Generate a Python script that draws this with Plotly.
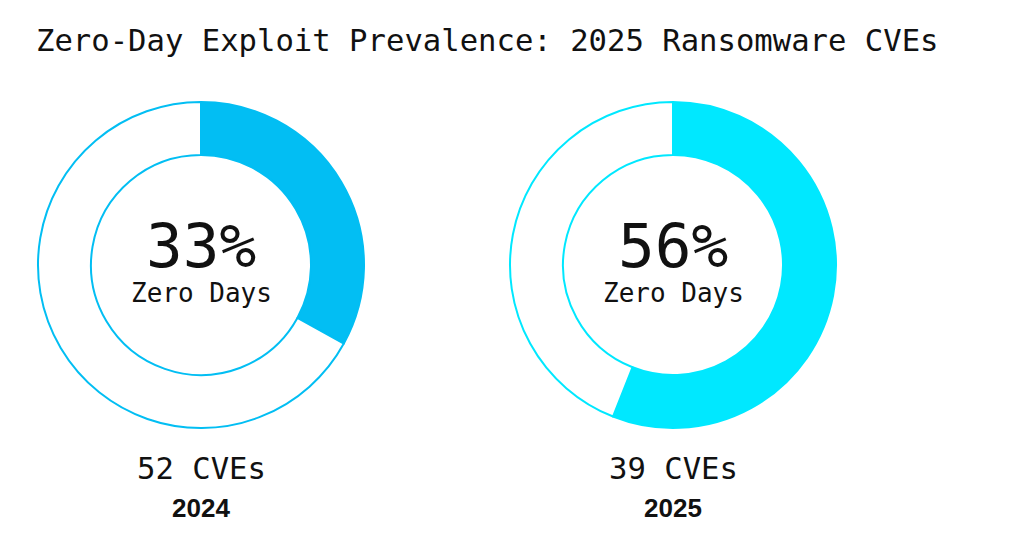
import plotly.graph_objects as go

title = "Zero-Day Exploit Prevalence: 2025 Ransomware CVEs"
years = ["2024", "2025"]
zero_day_pct = [33, 56]
cve_counts = [52, 39]
colors = ["#02BEF3", "#00E8FF"]
center_label = "Zero Days"

# page offset (body margin) compensation
OFF = 8
W, H = 1024, 549
centers_x = [201 - OFF, 673 - OFF]
center_y = 265 - OFF
R = 163
hole = 110 / 163

mono = "DejaVu Sans Mono, Liberation Mono, monospace"

fig = go.Figure()
annotations = []
for i, yr in enumerate(years):
    cx = centers_x[i]
    x0 = (cx - R) / W
    x1 = (cx + R) / W
    y0 = (H - center_y - R) / H
    y1 = (H - center_y + R) / H
    pct = zero_day_pct[i]
    fig.add_trace(go.Pie(
        values=[pct, 100 - pct],
        labels=["Zero Days", "Other"],
        marker=dict(colors=[colors[i], "white"], line=dict(color=colors[i], width=2)),
        hole=hole,
        sort=False,
        direction="clockwise",
        rotation=0,
        textinfo="none",
        hoverinfo="label+percent",
        domain=dict(x=[x0, x1], y=[y0, y1]),
        showlegend=False,
    ))
    annotations += [
        dict(text=f"{pct}%", x=cx / W, y=(H - (246 - OFF)) / H, font=dict(family=mono, size=61, color="#111111")),
        dict(text=center_label, x=cx / W, y=(H - (293 - OFF)) / H, font=dict(family=mono, size=26, color="#111111")),
        dict(text=f"{cve_counts[i]} CVEs", x=cx / W, y=(H - (468 - OFF)) / H, font=dict(family=mono, size=30.6, color="#111111")),
        dict(text=f"<b>{yr}</b>", x=cx / W, y=(H - (508 - OFF)) / H, font=dict(family="Liberation Sans, Arial, sans-serif", size=26, color="#111111")),
    ]

for a in annotations:
    a.update(xref="paper", yref="paper", showarrow=False, xanchor="center", yanchor="middle")

annotations.append(dict(text=title, x=(38 - 12) / W, y=(H - (40 - OFF)) / H, xref="paper", yref="paper",
                        showarrow=False, xanchor="left", yanchor="middle",
                        font=dict(family=mono, size=30.6, color="#111111")))

fig.update_layout(
    width=W, height=H,
    margin=dict(l=0, r=0, t=0, b=0),
    paper_bgcolor="white", plot_bgcolor="white",
    annotations=annotations,
)
fig.write_html("out.html")
